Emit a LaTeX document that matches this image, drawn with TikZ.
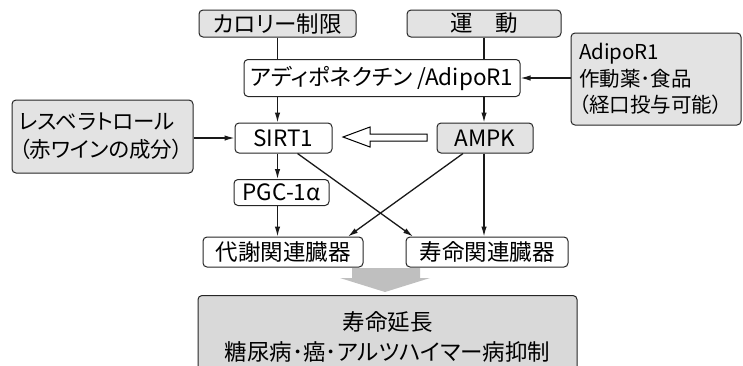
\documentclass[tikz,border=0pt]{standalone}
\usepackage{fontspec}
\setmainfont{Noto Sans CJK JP}[RawFeature=+palt]
\usetikzlibrary{arrows.meta}

\begin{document}
\begin{tikzpicture}[x=1pt,y=-1pt,
  font=\fontsize{22.5}{26.5}\selectfont,
  box/.style={draw=black!85,line width=1pt,rounded corners=4pt,inner sep=0pt,fill=white},
  graybox/.style={box,fill=gray!22},
  link/.style={line width=1.3pt,draw=black!90},
  arr/.style={link,-{Latex[length=10pt,width=5.5pt]}}]
\clip (0,0) rectangle (743,365);
\node[graybox,minimum width=157,minimum height=27] (cal) at (277.5,23.5) {カロリー制限};
\node[graybox,minimum width=154,minimum height=27] (exer) at (484,23.5) {運\hspace{1em}動};
\node[box,minimum width=276,minimum height=37] (adipo) at (382,78) {アディポネクチン /AdipoR1};
\node[graybox,minimum height=92,text width=154,inner xsep=8pt,align=left,
  font=\fontsize{20.5}{26.5}\selectfont] (agon) at (656,79) {AdipoR1\\作動薬･食品\\（経口投与可能）};
\node[graybox,minimum height=73,text width=167,inner xsep=7pt,align=left,
  font=\fontsize{21.5}{28}\selectfont] (resv) at (102.5,136.5) {レスベラトロール\\（赤ワインの成分）};
\node[box,minimum width=97,minimum height=30] (sirt) at (283.5,138) {SIRT1};
\node[graybox,minimum width=96,minimum height=30] (ampk) at (485,138) {AMPK};
\node[box,minimum width=95,minimum height=26] (pgc) at (281.5,192.5) {PGC-1α};
\node[box,minimum width=160,minimum height=30] (meta) at (283,252) {代謝関連臓器};
\node[box,minimum width=162,minimum height=30] (life) at (487,252) {寿命関連臓器};
\node[graybox,fill=gray!30,minimum width=379,minimum height=90,anchor=north] (result) at (387.5,295) {};
\node (res1) at (387.5,322) {寿命延長};
\node (res2) at (387.5,352) {糖尿病･癌･アルツハイマー病抑制};

\draw[link] (cal.south) -- (cal.south |- adipo.north);
\draw[link] (exer.south) -- (exer.south |- adipo.north);
\draw[arr] (agon.west |- adipo.east) -- (adipo.east);
\draw[arr] (adipo.south -| cal.south) -- (sirt.north -| cal.south);
\draw[arr] (adipo.south -| exer.south) -- (ampk.north -| exer.south);
\draw[arr] (resv.east |- sirt.west) -- (sirt.west);
\draw[arr] (sirt.south -| cal.south) -- (pgc.north -| cal.south);
\draw[arr] (pgc.south -| cal.south) -- (meta.north -| cal.south);
\draw[arr] (ampk.south -| exer.south) -- (life.north -| exer.south);
\draw[arr] ([xshift=14pt]sirt.south) -- ([xshift=-74pt]life.north);
\draw[arr] ([xshift=-22pt]ampk.south) -- ([xshift=65pt]meta.north);
\draw[line width=1pt,fill=white,line join=miter] (343,137) -- (370,127) -- (370,134) -- (427,134) -- (427,141) -- (370,141) -- (370,147) -- cycle;
\fill[gray!50] (352,268) -- (420,268) -- (420,278) -- (430,278) -- (385,292) -- (340,278) -- (352,278) -- cycle;
\end{tikzpicture}
\end{document}
